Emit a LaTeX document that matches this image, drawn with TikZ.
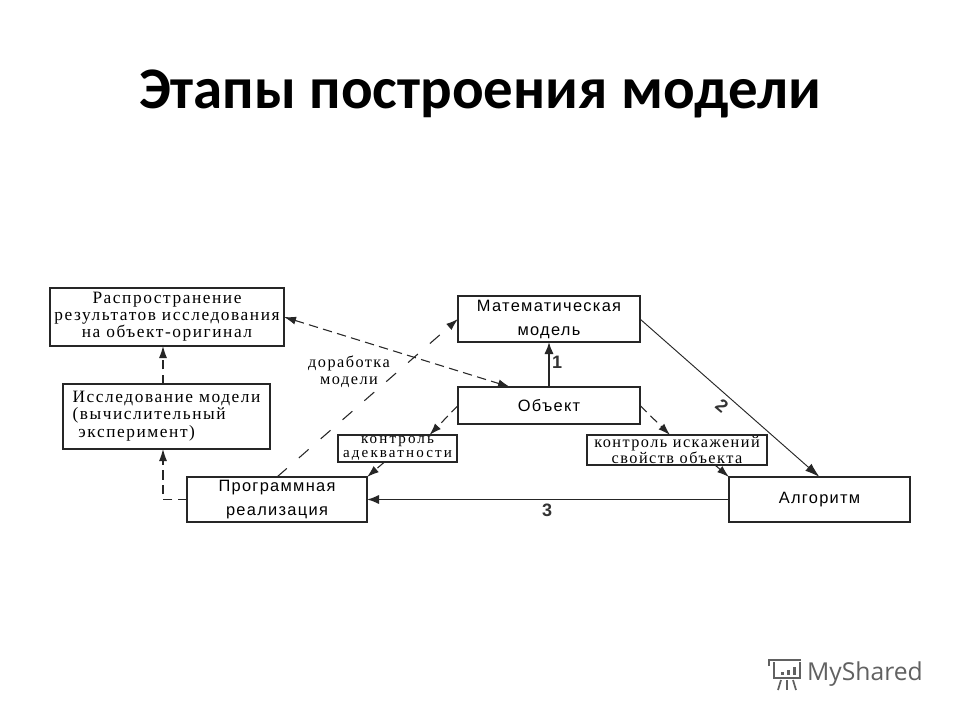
\documentclass[tikz,border=0pt]{standalone}
\usepackage{fontspec}
\usetikzlibrary{arrows.meta,calc}
\setmainfont{Liberation Serif}
\newfontfamily\titlefont{Carlito}
\newfontfamily\serifwide[LetterSpace=9]{Liberation Serif}
\newfontfamily\serifwider[LetterSpace=14]{Liberation Serif}
\newfontfamily\sanswide[LetterSpace=8]{Liberation Sans}
\newfontfamily\sansplain{Liberation Sans}
\newfontfamily\logofont{Open Sans}
\tikzset{
  box/.style={draw=black!85,line width=1.1pt,inner sep=0pt,outer sep=0pt,align=center},
  serifbox/.style={box,font=\serifwide\fontsize{13}{12.8}\selectfont},
  smallbox/.style={box,line width=0.9pt,font=\serifwide\fontsize{12.2}{10.5}\selectfont},
  tightbox/.style={box,line width=0.9pt,font=\serifwider\fontsize{11.3}{10.8}\selectfont},
  sansbox/.style={box,font=\sanswide\fontsize{12.3}{18}\selectfont},
  solidarrow/.style={draw=black!85,line width=1.4pt,-{Latex[length=9pt,width=7pt]}},
  thinarrow/.style={draw=black!85,line width=0.7pt,-{Latex[length=11pt,width=7pt]}},
  dasharrow/.style={draw=black!85,line width=0.8pt,dash pattern=on 7pt off 4pt,-{Latex[length=9pt,width=6pt]}},
  sparsearrow/.style={dasharrow,dash pattern=on 9.75pt off 12pt},
  numlabel/.style={font=\sansplain\bfseries\fontsize{13.5}{13.5}\selectfont,text=black!80},
}
\begin{document}
\begin{tikzpicture}[x=0.75pt,y=-0.75pt]
\useasboundingbox (0,0) rectangle (960,720);
\fill[white] (0,0) rectangle (960,720);
\node[font=\titlefont\bfseries\fontsize{44.2}{44}\selectfont,text=black] (title) at (480,94) {Этапы построения модели};

\node[serifbox,minimum width=175.5pt,minimum height=43.5pt] (spread) at (167,317) {Распространение\\результатов исследования\\на объект-оригинал};
\node[serifbox,minimum width=155.25pt,minimum height=48.75pt] (study) at (166.5,416.5) {\begin{tabular}{@{}l@{}}Исследование модели\\(вычислительный\\\ эксперимент)\end{tabular}};
\node[sansbox,minimum width=135pt,minimum height=33.75pt] (prog) at (277,499.5) {Программная\\реализация};
\node[tightbox,minimum width=89.25pt,minimum height=20.25pt] (ctrlA) at (397.5,448.5) {контроль\\адекватности};
\node[sansbox,minimum width=136.5pt,minimum height=34.5pt] (math) at (549,319) {Математическая\\модель};
\node[sansbox,minimum width=136.5pt,minimum height=27.75pt] (obj) at (549,405.5) {Объект};
\node[smallbox,minimum width=135pt,minimum height=22.5pt] (ctrlB) at (677,450) {контроль искажений\\свойств объекта};
\node[sansbox,minimum width=135.75pt,minimum height=33.75pt] (alg) at (819.5,499.5) {Алгоритм};

\node[font=\serifwide\fontsize{12.2}{12.5}\selectfont,inner sep=0pt,align=center] (rework) at (349,372) {доработка\\модели};

\draw[solidarrow] (obj.north) -- (math.south);
\draw[thinarrow] (math.east) -- (alg.north);
\draw[solidarrow] (alg.west) -- (prog.east);
\draw[sparsearrow] (prog.north) -- (math.west);
\draw[dasharrow,{Latex[length=9pt,width=6pt]}-{Latex[length=9pt,width=6pt]}] (spread.east) -- ($(obj.north)+(-39,0)$);
\draw[dasharrow] ($(study.north)+(-3.5,0)$) -- ($(spread.south)+(-4,0)$);
\draw[dasharrow] (prog.west) -| ($(study.south)+(-3.5,0)$);
\draw[dasharrow] (obj.west) -- ($(ctrlA.north)+(32,0)$);
\draw[dasharrow] ($(ctrlA.south)+(-13,0)$) -- (prog.north east);
\draw[dasharrow] (obj.east) -- ($(ctrlB.north)+(-7,0)$);
\draw[dasharrow] ($(ctrlB.south)+(38,0)$) -- (alg.north west);

\node[numlabel] (n1) at (557,362) {1};
\node[numlabel,rotate=-40] (n2) at (722,406) {2};
\node[numlabel] (n3) at (547,510) {3};

% MyShared logo
\node[font=\logofont\fontsize{18.5}{18.5}\selectfont,text=black!62,inner sep=0pt] (logo) at (865,674) {MyShared};
\begin{scope}[draw=black!62,line width=1.3pt]
  \draw (769,666) -- (769,660) -- (801,660);
  \draw (774,662) -- (774,678) -- (800,678) -- (800,662);
  \fill[black!62] (781,672) rectangle (784,675);
  \fill[black!62] (787,670) rectangle (790,675);
  \fill[black!62] (793,667) rectangle (796,675);
  \draw (781,680) -- (778,690);
  \draw (787,680) -- (787,690);
  \draw (793,680) -- (796,690);
\end{scope}
\end{tikzpicture}
\end{document}
